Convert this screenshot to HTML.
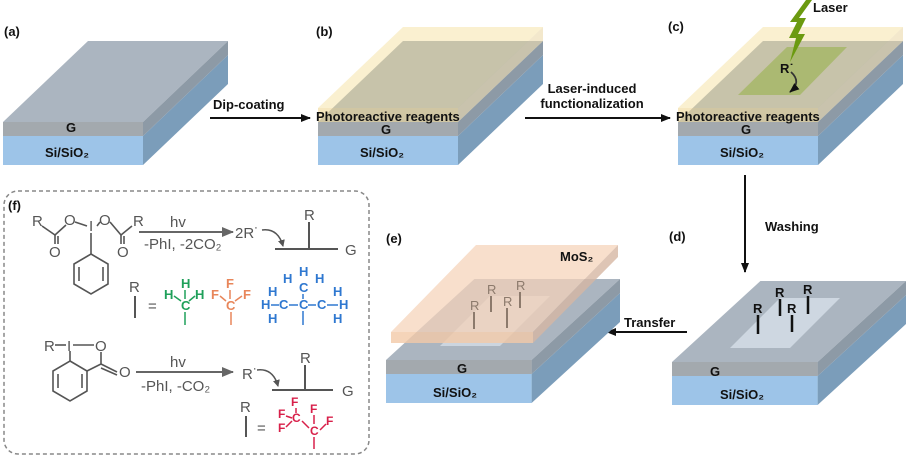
<!DOCTYPE html>
<html><head><meta charset="utf-8"><style>
html,body{margin:0;padding:0;background:#fff;}
svg{display:block;font-family:"Liberation Sans",Arial,sans-serif;}
.b{font-weight:bold;font-size:13px;fill:#111;}
.c{font-size:15px;fill:#555;}
</style></head><body>
<svg width="907" height="457" viewBox="0 0 907 457" xmlns="http://www.w3.org/2000/svg">
<defs>
<g id="slab">
  <polygon points="140,-29 225,-110 225,-81 140,0" fill="#7b9dba"/>
  <rect x="0" y="-29" width="140" height="29" fill="#9dc4e8"/>
  <polygon points="0,-43 140,-43 225,-124 85,-124" fill="#abb5c0"/>
  <rect x="0" y="-43" width="140" height="14" fill="#a3a9ae"/>
  <polygon points="140,-43 225,-124 225,-110 140,-29" fill="#8d9aa6"/>
</g>
<g id="yel">
  <polygon points="0,-57 140,-57 225,-138 85,-138" fill="#f3d98a" opacity="0.4"/>
  <rect x="0" y="-57" width="140" height="14" fill="#efd48a" opacity="0.55"/>
  <polygon points="140,-57 225,-138 225,-124 140,-43" fill="#e7d29a" opacity="0.5"/>
</g>
<marker id="ah" markerWidth="10" markerHeight="8" refX="9" refY="4" orient="auto" markerUnits="userSpaceOnUse"><path d="M0,0 L10,4 L0,8 Z" fill="#111"/></marker>
<marker id="ag" markerWidth="12" markerHeight="10" refX="11" refY="5" orient="auto" markerUnits="userSpaceOnUse"><path d="M0,0 L12,5 L0,10 Z" fill="#666"/></marker>
<marker id="ac" markerWidth="7" markerHeight="7" refX="6" refY="3.5" orient="auto" markerUnits="userSpaceOnUse"><path d="M0,0 L7,3.5 L0,7 Z" fill="#555"/></marker>
</defs>

<!-- (a) -->
<text x="4" y="36" class="b">(a)</text>
<use href="#slab" transform="translate(3,165)"/>
<text x="66" y="132" class="b">G</text>
<text x="45" y="157" class="b">Si/SiO₂</text>
<line x1="210" y1="118" x2="310" y2="118" stroke="#111" stroke-width="2" marker-end="url(#ah)"/>
<text x="213" y="109" class="b">Dip-coating</text>

<!-- (b) -->
<text x="316" y="36" class="b">(b)</text>
<use href="#slab" transform="translate(318,165)"/>
<use href="#yel" transform="translate(318,165)"/>
<text x="316" y="121" class="b" font-size="12">Photoreactive reagents</text>
<text x="381" y="134" class="b">G</text>
<text x="360" y="157" class="b">Si/SiO₂</text>
<line x1="525" y1="118" x2="670" y2="118" stroke="#111" stroke-width="2" marker-end="url(#ah)"/>
<text x="592" y="93" class="b" text-anchor="middle">Laser-induced</text>
<text x="592" y="108" class="b" text-anchor="middle">functionalization</text>

<!-- (c) -->
<text x="668" y="31" class="b">(c)</text>
<use href="#slab" transform="translate(678,165)"/>
<use href="#yel" transform="translate(678,165)"/>
<polygon points="738,95 800,95 847,47 787,47" fill="#8fb03a" opacity="0.5"/>
<polygon points="806,0 790,22 797,22 789,38 796,38 790,62 805,34 798,34 806,18 799,18 812,0" fill="#6b9a10"/>
<text x="813" y="12" class="b">Laser</text>
<text x="780" y="73" class="b" font-size="12">R˙</text>
<path d="M791,72 Q802,82 790,92" fill="none" stroke="#333" stroke-width="1.8" marker-end="url(#ah)"/>
<text x="676" y="121" class="b" font-size="12">Photoreactive reagents</text>
<text x="741" y="134" class="b">G</text>
<text x="720" y="157" class="b">Si/SiO₂</text>
<line x1="745" y1="175" x2="745" y2="272" stroke="#111" stroke-width="2" marker-end="url(#ah)"/>
<text x="765" y="231" class="b">Washing</text>

<!-- (d) -->
<text x="669" y="241" class="b">(d)</text>
<use href="#slab" transform="translate(672,405) scale(1.04,1)"/>
<polygon points="730,348 790,348 840,298 780,298" fill="#d4dde6" opacity="0.85"/>
<g class="b" font-size="13">
<text x="753" y="313">R</text><text x="775" y="297">R</text><text x="787" y="313">R</text><text x="803" y="294">R</text>
</g>
<g stroke="#111" stroke-width="2.5">
<line x1="758" y1="315" x2="758" y2="334"/><line x1="780" y1="299" x2="780" y2="316"/>
<line x1="792" y1="315" x2="792" y2="332"/><line x1="808" y1="296" x2="808" y2="314"/>
</g>
<text x="710" y="376" class="b">G</text>
<text x="720" y="399" class="b">Si/SiO₂</text>
<line x1="687" y1="332" x2="607" y2="332" stroke="#111" stroke-width="2" marker-end="url(#ah)"/>
<text x="624" y="327" class="b">Transfer</text>

<!-- (e) -->
<text x="386" y="243" class="b">(e)</text>
<use href="#slab" transform="translate(386,403) scale(1.04,1)"/>
<polygon points="440,346 500,346 550,296 490,296" fill="#d4dde6" opacity="0.8"/>
<polygon points="391,343 533,343 533,332 391,332" fill="#f2c9a8" opacity="0.8"/>
<polygon points="391,332 533,332 618,245 476,245" fill="#f5d3b8" opacity="0.72"/>
<polygon points="533,343 533,332 618,245 618,257" fill="#d6b7a2" opacity="0.8"/>
<text x="560" y="261" class="b">MoS₂</text>
<g fill="#8c7a6c" font-size="13"><text x="470" y="310">R</text><text x="487" y="294">R</text><text x="503" y="306">R</text><text x="516" y="290">R</text></g>
<g stroke="#8c7a6c" stroke-width="2">
<line x1="474" y1="312" x2="474" y2="329"/><line x1="491" y1="296" x2="491" y2="312"/>
<line x1="507" y1="308" x2="507" y2="328"/><line x1="520" y1="292" x2="520" y2="308"/>
</g>
<text x="457" y="373" class="b">G</text>
<text x="433" y="397" class="b">Si/SiO₂</text>

<!-- (f) -->
<rect x="4" y="191" width="365" height="263" rx="14" fill="none" stroke="#888" stroke-width="1.5" stroke-dasharray="4,3"/>
<text x="8" y="210" class="b">(f)</text>
<g class="c">
<text x="32" y="226">R</text><text x="64" y="225">O</text><text x="89" y="231">I</text><text x="99" y="225">O</text><text x="133" y="226">R</text>
<text x="49" y="257">O</text><text x="117" y="257">O</text>
</g>
<g stroke="#555" stroke-width="1.6" fill="none">
<path d="M42,226 L55,235 L66,225"/><line x1="55" y1="235" x2="55" y2="244"/><line x1="58" y1="236" x2="58" y2="244"/>
<path d="M75,222 L87,226"/><path d="M97,226 L100,222"/>
<path d="M110,222 L121,235 L132,226"/><line x1="121" y1="235" x2="121" y2="244"/><line x1="124" y1="236" x2="124" y2="244"/>
<line x1="91" y1="233" x2="91" y2="254"/>
<polygon points="91,254 108,264 108,284 91,294 74,284 74,264"/>
<line x1="79" y1="267" x2="79" y2="281"/><line x1="103" y1="267" x2="103" y2="281"/>
</g>
<line x1="139" y1="232" x2="233" y2="232" stroke="#666" stroke-width="2" marker-end="url(#ag)"/>
<text x="170" y="227" class="c">hv</text>
<text x="144" y="249" class="c">-PhI, -2CO₂</text>
<text x="235" y="238" class="c">2R˙</text>
<path d="M262,230 Q278,228 283,246" fill="none" stroke="#555" stroke-width="1.5" marker-end="url(#ac)"/>
<g stroke="#555" stroke-width="2"><line x1="275" y1="249" x2="338" y2="249"/><line x1="309" y1="222" x2="309" y2="249"/></g>
<text x="304" y="220" class="c">R</text><text x="345" y="255" class="c">G</text>

<text x="129" y="292" class="c">R</text>
<line x1="135" y1="296" x2="135" y2="318" stroke="#555" stroke-width="2"/>
<text x="148" y="311" class="c" font-size="18">=</text>
<g fill="#1fa05a" font-size="13" font-weight="bold">
<text x="181" y="288">H</text><text x="164" y="299">H</text><text x="195" y="299">H</text><text x="181" y="310">C</text>
</g>
<g stroke="#1fa05a" stroke-width="1.5"><line x1="185" y1="290" x2="185" y2="299"/><line x1="174" y1="296" x2="181" y2="301"/><line x1="195" y1="296" x2="189" y2="301"/><line x1="185" y1="312" x2="185" y2="325"/></g>
<g fill="#e8865a" font-size="13" font-weight="bold">
<text x="226" y="288">F</text><text x="211" y="299">F</text><text x="243" y="299">F</text><text x="226" y="310">C</text>
</g>
<g stroke="#e8865a" stroke-width="1.5"><line x1="230" y1="290" x2="230" y2="299"/><line x1="220" y1="296" x2="226" y2="301"/><line x1="242" y1="296" x2="235" y2="301"/><line x1="231" y1="312" x2="231" y2="325"/></g>
<g fill="#2f78d0" font-size="13" font-weight="bold">
<text x="299" y="276">H</text><text x="283" y="283">H</text><text x="315" y="283">H</text>
<text x="299" y="292">C</text>
<text x="268" y="296">H</text><text x="261" y="309">H</text><text x="268" y="323">H</text>
<text x="279" y="309">C</text><text x="299" y="309">C</text><text x="317" y="309">C</text>
<text x="333" y="296">H</text><text x="339" y="309">H</text><text x="333" y="323">H</text>
</g>
<g stroke="#2f78d0" stroke-width="1.5">
<line x1="303" y1="294" x2="303" y2="299"/><line x1="289" y1="305" x2="298" y2="305"/><line x1="308" y1="305" x2="316" y2="305"/>
<line x1="271" y1="305" x2="279" y2="305"/><line x1="327" y1="305" x2="338" y2="305"/>
<line x1="303" y1="311" x2="303" y2="325"/>
</g>

<g class="c"><text x="44" y="351">R</text><text x="67" y="351">I</text><text x="95" y="351">O</text><text x="119" y="377">O</text></g>
<g stroke="#555" stroke-width="1.6" fill="none">
<line x1="55" y1="345" x2="66" y2="345"/><line x1="73" y1="345" x2="94" y2="345"/>
<line x1="70" y1="351" x2="70" y2="361"/>
<polygon points="70,361 87,371 87,391 70,401 53,391 53,371"/>
<line x1="58" y1="374" x2="58" y2="388"/><line x1="82" y1="374" x2="82" y2="388"/>
<path d="M87,371 L101,364 L101,352"/>
<line x1="101" y1="364" x2="117" y2="372"/><line x1="101" y1="368" x2="117" y2="375"/>
</g>
<line x1="136" y1="372" x2="233" y2="372" stroke="#666" stroke-width="2" marker-end="url(#ag)"/>
<text x="170" y="367" class="c">hv</text>
<text x="141" y="391" class="c">-PhI, -CO₂</text>
<text x="242" y="379" class="c">R˙</text>
<path d="M257,370 Q273,368 278,386" fill="none" stroke="#555" stroke-width="1.5" marker-end="url(#ac)"/>
<g stroke="#555" stroke-width="2"><line x1="272" y1="390" x2="333" y2="390"/><line x1="305" y1="365" x2="305" y2="390"/></g>
<text x="300" y="363" class="c">R</text><text x="342" y="396" class="c">G</text>
<text x="240" y="412" class="c">R</text>
<line x1="246" y1="416" x2="246" y2="437" stroke="#555" stroke-width="2"/>
<text x="257" y="433" class="c" font-size="18">=</text>
<g fill="#d8204a" font-size="12" font-weight="bold">
<text x="291" y="406">F</text><text x="278" y="418">F</text><text x="278" y="432">F</text><text x="292" y="422">C</text>
<text x="310" y="413">F</text><text x="326" y="425">F</text><text x="310" y="435">C</text>
</g>
<g stroke="#d8204a" stroke-width="1.5">
<line x1="296" y1="408" x2="296" y2="413"/><line x1="286" y1="416" x2="292" y2="418"/><line x1="286" y1="427" x2="292" y2="421"/>
<line x1="302" y1="421" x2="309" y2="428"/><line x1="314" y1="415" x2="314" y2="424"/><line x1="320" y1="430" x2="326" y2="424"/>
<line x1="314" y1="437" x2="314" y2="449"/>
</g>
</svg>
</body></html>
